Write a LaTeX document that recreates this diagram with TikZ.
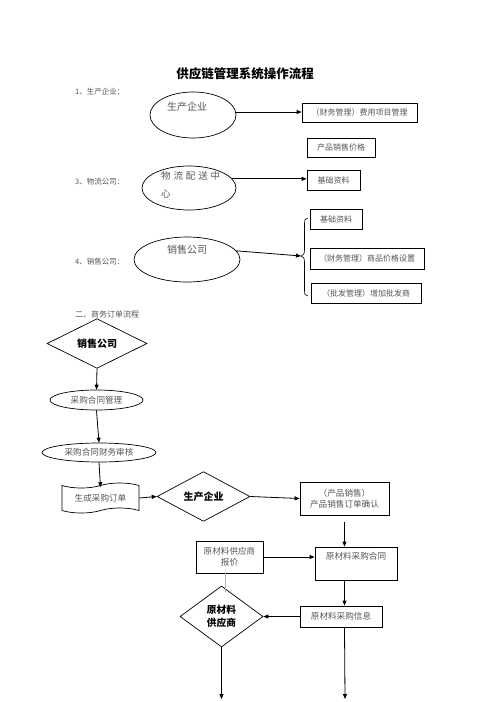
\documentclass[tikz,border=0pt]{standalone}
\usepackage{fontspec}
\setmainfont{Noto Sans CJK SC}
\usetikzlibrary{shapes.geometric,shapes.symbols,arrows.meta}
\definecolor{txt}{HTML}{555555}
\tikzset{
  box/.style={draw, line width=0.8pt, inner sep=0pt, text=txt, font=\fontsize{8}{11}\selectfont, align=center},
  oval/.style={draw, line width=0.7pt, ellipse, inner sep=0pt},
  dia/.style={draw, line width=0.7pt, diamond, inner sep=0pt, align=center, font=\fontsize{10}{13}\selectfont\bfseries},
  lbl/.style={anchor=west, text=txt, font=\fontsize{7.5}{9}\selectfont, inner sep=0pt},
  arr/.style={line width=0.8pt, -{Triangle[length=5pt,width=4pt]}},
  flowtxt/.style={text=txt, font=\fontsize{8.6}{11}\selectfont}
}
\begin{document}
\begin{tikzpicture}[x=1pt,y=-1pt]
\useasboundingbox (0,0) rectangle (496,702);
% title
\node (title) at (245,74) {\fontsize{12.5}{14}\selectfont\bfseries 供应链管理系统操作流程};
% labels
\node[lbl] (l1) at (75,92) {1、生产企业：};
\node[lbl] (l3) at (75,182) {3、物流公司：};
\node[lbl] (l4) at (75,262) {4、销售公司：};
\node[lbl,font=\fontsize{8}{9}\selectfont] (l5) at (75,314) {二、商务订单流程};
% part 1
\node[oval, minimum width=86, minimum height=46] (e1) at (193,115) {};
\node[text=txt, font=\fontsize{10}{12}\selectfont] (e1t) at (187,107) {生产企业};
\node[box, minimum width=115, minimum height=19] (b1) at (359.5,112.5) {（财务管理）费用项目管理};
\node[box, minimum width=68, minimum height=19] (b2) at (341,147.5) {产品销售价格};
\draw[arr] (e1.4) -- (e1.4 -| b1.west);
% part 3
\node[oval, minimum width=94, minimum height=44] (e2) at (189,188) {};
\node[text=txt, font=\fontsize{9.5}{18}\selectfont, anchor=north west, align=left, inner sep=0pt] (e2t) at (161,171) {物\hspace{0.3em}流\hspace{0.3em}配\hspace{0.3em}送\hspace{0.3em}中\\心};
\node[box, minimum width=53, minimum height=20] (b3) at (333.5,180) {基础资料};
\draw[arr] (e2.12) -- (e2.12 -| b3.west);
% part 4
\node[oval, minimum width=106, minimum height=45] (e3) at (187,259.5) {};
\node[text=txt, font=\fontsize{10}{12}\selectfont] (e3t) at (187,250) {销售公司};
\node[box, minimum width=52, minimum height=20] (b4) at (336,219) {基础资料};
\node[box, minimum width=114, minimum height=21] (b5) at (367,258.5) {（财务管理）商品价格设置};
\node[box, minimum width=110, minimum height=20] (b6) at (366,293) {（批发管理）增加批发商};
\coordinate (bt) at (301,256);
\draw[line width=0.6pt] (308,218) .. controls (305,218) and (304.5,220) .. (304.5,224) -- (304.5,250) .. controls (304.5,254) and (303,256) .. (bt) .. controls (303,256) and (304.5,258) .. (304.5,262) -- (304.5,290) .. controls (304.5,294) and (305,296) .. (308,296);
\draw[arr] (e3.10) -- (bt);
% flowchart
\node[dia, minimum width=100, minimum height=35] (d1) at (97,343.5) {销售公司};
\node[oval, flowtxt, minimum width=93, minimum height=20] (f1) at (96.5,400) {采购合同管理};
\node[oval, flowtxt, minimum width=114, minimum height=19] (f2) at (99,452.5) {采购合同财务审核};
\node[draw, line width=0.7pt, tape, tape bend top=in and out, tape bend bottom=in and out, tape bend height=5pt, minimum width=77, minimum height=30, inner sep=0pt, flowtxt] (f3) at (100.5,498) {生成采购订单};
\node[dia, minimum width=93, minimum height=35] (d2) at (203.5,496.5) {生产企业};
\node[box, flowtxt, align=center, minimum width=89, minimum height=33] (f4) at (344.5,498.5) {（产品销售）\\产品销售订单确认};
\node[box, flowtxt, align=center, minimum width=67, minimum height=32] (f5) at (229.5,557) {原材料供应商\\报价};
\node[box, minimum width=82, minimum height=33, label={[flowtxt, anchor=north, inner sep=0pt, yshift=-5pt]north:原材料采购合同}] (f6) at (356,563.5) {};
\node[box, flowtxt, minimum width=82, minimum height=21] (f7) at (341,616.5) {原材料采购信息};
\node[dia, minimum width=83, minimum height=61, font=\fontsize{9.7}{13}\selectfont\bfseries] (d3) at (221.5,616.5) {原材料\\供应商};
\coordinate (end1) at (221.5,699);
\coordinate (end2) at (345,699);

\draw[arr] (d1.south) -- (f1.north);
\draw[arr] (f1.south) -- (f2.north);
\draw[arr] (f2.south) -- ([yshift=-2pt]f3.north);
\draw[arr] (f3.east) -- (d2.west);
\draw[arr] (d2.east) -- (f4.west);
\draw[arr] ([yshift=-7pt]f4.south) -- (f4.south |- f6.north);
\draw[arr] (f5.east) -- (f5.east -| f6.west);
\draw[line width=0.8pt, gray!60] ([xshift=-4.5pt]f5.south) -- ([xshift=-4.5pt]f5.south |- 0,592);
\draw[arr] (f4.south |- f6.south) -- (f4.south |- f7.north);
\draw[arr] (f7.west) -- (d3.east);
\draw[arr] (d3.south) -- (end1);
\draw[arr] (f4.south |- f7.south) -- (end2);
\end{tikzpicture}
\end{document}
